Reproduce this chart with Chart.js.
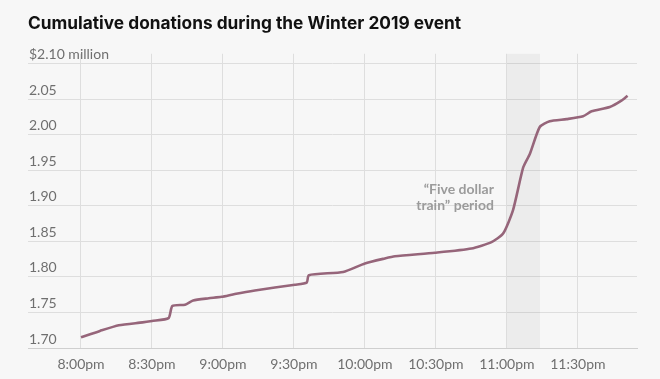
<!DOCTYPE html>
<html>
<head>
<meta charset="utf-8">
<script src="https://cdn.jsdelivr.net/npm/chart.js@4"></script>
<style>
  html, body { margin: 0; padding: 0; background: #f7f7f7; }
  #wrap { width: 660px; height: 379px; position: relative; }
</style>
</head>
<body>
<div id="wrap"><canvas id="chart"></canvas></div>
<script>
// minutes after 8:00pm
const minutes = [0, 8, 16, 26, 30, 37, 38.6, 44, 47.4, 54, 59.4, 65, 73.5, 90.4, 95.4, 96.3,
  110.8, 120, 128.4, 132.7, 149.6, 165, 173.5, 178.4, 182.6, 186.9, 189.7, 193.9, 198.1,
  205.2, 212.2, 215.8, 223.5, 228.4, 231];
// cumulative donations, $ millions
const donations = [1.715, 1.724, 1.732, 1.736, 1.738, 1.742, 1.759, 1.761, 1.767, 1.770, 1.772,
  1.776, 1.781, 1.789, 1.792, 1.8025, 1.807, 1.819, 1.826, 1.829, 1.834, 1.840, 1.849, 1.861,
  1.894, 1.954, 1.973, 2.011, 2.019, 2.022, 2.026, 2.033, 2.039, 2.048, 2.055];

const xTickValues = [0, 30, 60, 90, 120, 150, 180, 210];
const xTickLabels = ["8:00pm", "8:30pm", "9:00pm", "9:30pm", "10:00pm", "10:30pm", "11:00pm", "11:30pm"];
const yTickValues = [1.70, 1.75, 1.80, 1.85, 1.90, 1.95, 2.00, 2.05, 2.10];
const yTickLabels = ["1.70", "1.75", "1.80", "1.85", "1.90", "1.95", "2.00", "2.05", "$2.10 million"];

const trainPeriod = [180, 194];
const trainLabel = ["\u201cFive dollar", "train\u201d period"];

const gridColor = "#dedede";
const tickColor = "#6f6f6f";
const fontFamily = "Lato, 'Open Sans', sans-serif";

const trainBand = {
  id: "trainBand",
  beforeDatasetsDraw(chart) {
    const { ctx, chartArea, scales } = chart;
    const x0 = scales.x.getPixelForValue(trainPeriod[0]);
    const x1 = scales.x.getPixelForValue(trainPeriod[1]);
    ctx.save();
    ctx.fillStyle = "rgba(0,0,0,0.045)";
    ctx.fillRect(x0, chartArea.top, x1 - x0, chartArea.bottom - chartArea.top);
    ctx.fillStyle = "#9b9b9b";
    ctx.font = "bold 14px " + fontFamily;
    ctx.textAlign = "right";
    ctx.textBaseline = "middle";
    const y = scales.y.getPixelForValue(1.923);
    trainLabel.forEach((t, i) => ctx.fillText(t, x0 - 13, y + i * 16));
    ctx.restore();
  },
};

const bg = {
  id: "bg",
  beforeDraw(chart) {
    const { ctx, width, height } = chart;
    ctx.save();
    ctx.fillStyle = "#f7f7f7";
    ctx.fillRect(0, 0, width, height);
    ctx.restore();
  },
};

new Chart(document.getElementById("chart"), {
  type: "line",
  data: {
    datasets: [{
      data: minutes.map((m, i) => ({ x: m, y: donations[i] })),
      borderColor: "#96657a",
      borderWidth: 2.6,
      pointRadius: 0,
      tension: 0.2,
      fill: false,
    }],
  },
  plugins: [bg, trainBand],
  options: {
    responsive: true,
    maintainAspectRatio: false,
    animation: false,
    layout: { padding: { left: 28, right: 23, top: 13, bottom: 0 } },
    plugins: {
      legend: { display: false },
      tooltip: { enabled: false },
      title: {
        display: true,
        text: "Cumulative donations during the Winter 2019 event",
        align: "start",
        color: "#111",
        font: { family: "Inter, sans-serif", size: 17.3, weight: "bold" },
        padding: { top: 0, bottom: 20 },
      },
    },
    scales: {
      x: {
        type: "linear",
        min: -22.4,
        max: 235,
        afterBuildTicks: (s) => { s.ticks = xTickValues.map((v) => ({ value: v })); },
        afterFit: (s) => { s.height = 31; },
        ticks: {
          color: tickColor,
          padding: 8,
          font: { family: fontFamily, size: 14 },
          callback: (v) => xTickLabels[xTickValues.indexOf(v)],
        },
        grid: { color: gridColor, drawTicks: false },
        border: { color: "#cfcfcf" },
      },
      y: {
        min: 1.70,
        max: 2.114,
        afterBuildTicks: (s) => { s.ticks = yTickValues.map((v) => ({ value: v })); },
        afterFit: (s) => { s.width = 0; },
        ticks: {
          mirror: true,
          padding: 1,
          labelOffset: -9,
          color: tickColor,
          font: { family: fontFamily, size: 14 },
          callback: (v) => yTickLabels[yTickValues.findIndex((t) => Math.abs(t - v) < 1e-6)],
        },
        grid: { color: gridColor, drawTicks: false },
        border: { display: false },
      },
    },
  },
});
</script>
</body>
</html>
